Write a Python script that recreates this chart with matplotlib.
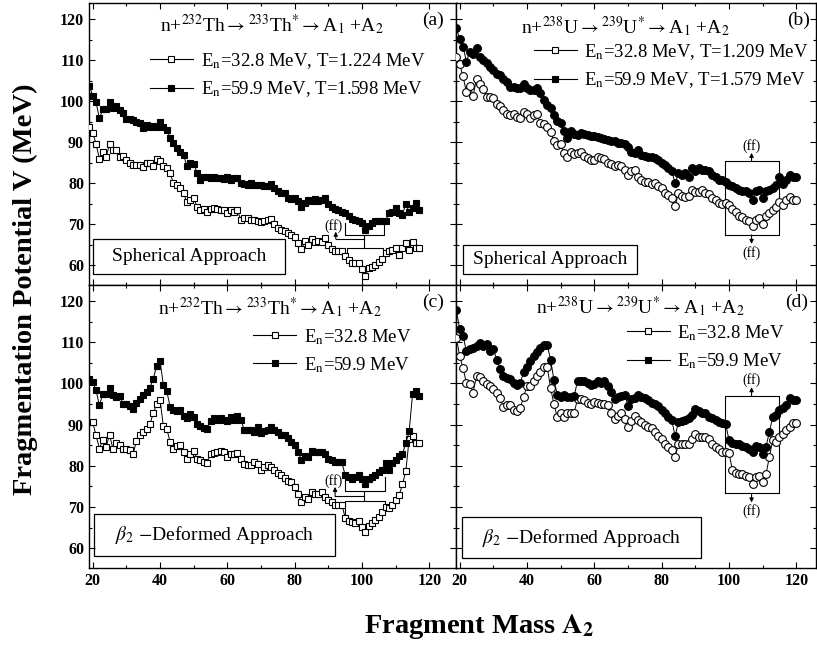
import numpy as np
import matplotlib
matplotlib.use('Agg')
import matplotlib.pyplot as plt
from matplotlib.lines import Line2D
from matplotlib.patches import Rectangle
from matplotlib.ticker import MultipleLocator

plt.rcParams['font.family'] = 'Liberation Serif'
plt.rcParams['mathtext.fontset'] = 'stix'

# Fragment masses A2
mass_th = np.arange(19, 118)     # 19..117 (Th panels)
mass_th_c_open = np.arange(20, 118)
mass_u = np.arange(19, 121)      # 19..120 (U panels)

# (a) n+232Th, spherical approach
th_sph_328 = [93.8, 92.3, 89.6, 85.9, 87.5, 86.3, 89.6, 88.1, 88.1, 86.3,
              86.7, 85.7, 84.9, 84.5, 84.5, 84.5, 83.9, 85.0, 84.9, 84.2,
              85.9, 85.3, 84.2, 83.7, 82.4, 80.0, 79.6, 78.8, 77.6, 75.3,
              76.0, 76.4, 74.3, 73.4, 73.7, 73.1, 73.7, 73.9, 73.7, 73.5,
              73.4, 72.7, 73.5, 73.1, 73.4, 71.1, 71.5, 71.5, 71.1, 71.1,
              70.7, 70.5, 70.9, 71.1, 71.3, 70.1, 69.1, 68.7, 68.3, 67.9,
              67.4, 67.0, 65.4, 64.0, 65.8, 65.0, 66.4, 65.6, 65.8, 65.6,
              66.6, 65.0, 64.0, 63.4, 63.4, 63.6, 62.2, 61.4, 60.6, 60.6,
              60.6, 59.1, 57.5, 59.3, 59.7, 60.1, 60.7, 61.5, 63.0, 63.4,
              63.8, 64.2, 62.6, 64.2, 65.4, 63.8, 65.6, 64.2, 64.2]
th_sph_599 = [103.8, 101.3, 99.7, 95.8, 98.0, 98.0, 99.9, 98.3, 98.7, 97.9,
              97.0, 95.7, 95.6, 95.4, 95.0, 94.6, 93.4, 94.2, 93.8, 94.0,
              93.8, 94.8, 93.8, 93.0, 91.0, 89.8, 88.5, 87.7, 86.9, 84.1,
              84.9, 84.7, 82.6, 80.8, 81.5, 81.6, 81.2, 81.5, 81.2, 81.2,
              81.0, 81.5, 80.8, 81.2, 81.2, 80.0, 79.9, 79.6, 80.0, 79.6,
              79.6, 79.6, 79.4, 79.2, 79.9, 78.8, 78.2, 77.7, 77.6, 76.4,
              76.1, 76.4, 75.6, 74.3, 75.2, 76.0, 75.6, 76.1, 75.6, 76.0,
              76.4, 75.0, 74.2, 73.7, 73.5, 73.1, 72.7, 71.9, 71.3, 71.1,
              70.9, 70.3, 68.7, 69.6, 70.3, 70.7, 70.7, 70.7, 70.7, 72.7,
              72.9, 73.9, 72.7, 72.3, 75.0, 72.9, 74.0, 75.2, 73.5]

# (b) n+238U, spherical approach
u_sph_328 = [110.8, 109.0, 106.0, 102.2, 103.8, 101.3, 105.4, 104.1, 103.0, 101.1,
             100.9, 100.7, 99.2, 98.7, 97.9, 96.8, 96.6, 96.8, 96.2, 96.0,
             97.4, 96.8, 96.0, 96.5, 96.8, 94.6, 94.4, 93.8, 92.4, 90.3,
             89.3, 89.5, 87.3, 86.5, 87.7, 87.1, 87.3,
             87.5, 86.7, 86.1, 85.7, 85.7, 86.5, 86.1, 85.9, 85.0, 84.7,
             84.1, 84.5, 84.1, 83.3, 82.0, 82.9, 83.1, 81.5, 80.8, 80.2,
             80.4, 79.9, 80.0, 79.2, 78.8, 77.6, 77.2, 76.4, 74.5,
             77.6, 76.8, 76.6, 76.8, 78.4, 77.8, 77.8, 78.4, 77.6, 77.4,
             76.4, 75.8, 75.2, 75.0, 75.2, 74.8, 73.6, 72.9, 71.9, 71.8,
             71.1, 70.7, 69.5, 71.0, 71.5, 70.1, 71.9, 72.7, 73.5, 74.1,
             75.5, 74.7, 75.9, 76.7, 76.0, 75.9]
u_sph_599 = [117.7, 115.1, 113.3, 109.6, 112.0, 111.4, 112.9, 110.8, 110.0, 109.2,
             108.4, 107.6, 106.5, 106.4, 105.4, 104.7, 103.5, 103.5, 103.1, 103.3,
             104.1, 103.1, 102.7, 102.7, 103.1, 101.9, 100.3, 99.1, 98.3, 96.6,
             95.2, 94.6, 92.6, 91.0, 92.6, 91.9, 91.8, 92.2, 92.0, 91.8,
             91.5, 91.4, 91.2, 91.0, 90.7, 90.6, 90.4, 90.2, 89.9, 89.7,
             89.6, 88.9, 87.5, 87.3, 88.1, 86.9, 86.7, 86.5, 86.3, 86.1,
             85.7, 85.0, 84.5, 83.7, 82.9, 80.0, 82.4, 82.0, 82.4, 81.6,
             83.7, 82.9, 83.7, 83.3, 83.3, 82.9, 82.0, 81.6, 80.8, 80.7,
             80.4, 79.6, 79.2, 78.8, 78.4, 78.0, 78.0, 77.6, 76.0, 78.0,
             78.4, 76.4, 78.0, 78.4, 78.8, 79.6, 81.6, 79.9, 80.8, 82.0,
             81.6, 81.6]

# (c) n+232Th, beta2-deformed approach
th_def_328 = [90.6, 87.4, 84.2, 86.2, 84.6, 87.6, 84.2, 85.5, 85.0, 84.2,
              84.2, 83.9, 82.9, 86.0, 87.6, 88.2, 89.0, 90.1, 92.8, 94.9,
              96.1, 89.6, 89.0, 85.8, 84.2, 84.7, 85.0, 83.3, 81.7, 82.9,
              83.7, 81.7, 81.5, 80.9, 80.7, 82.8, 83.1, 83.3, 83.6, 83.3,
              82.1, 82.9, 82.9, 83.1, 81.7, 80.5, 80.3, 80.1, 80.9, 80.5,
              78.9, 79.7, 80.1, 79.7, 78.9, 78.2, 77.7, 77.1, 76.4, 76.0,
              74.8, 73.2, 71.2, 72.4, 72.0, 73.6, 73.2, 73.2, 73.6, 72.4,
              71.6, 71.2, 70.6, 70.6, 70.6, 67.4, 66.7, 66.3, 66.1, 66.6,
              65.1, 63.9, 65.5, 66.1, 66.9, 67.7, 68.7, 70.1, 69.8, 70.6,
              71.6, 72.8, 75.5, 78.7, 86.6, 87.2, 85.5, 85.5]
th_def_599 = [101.0, 100.4, 98.3, 94.7, 97.4, 97.4, 98.8, 97.1, 96.7, 96.9,
              95.1, 94.9, 94.5, 93.9, 95.3, 96.3, 97.1, 97.9, 98.9, 101.2,
              104.2, 105.5, 99.6, 98.2, 94.3, 93.6, 93.3, 93.6, 92.0, 91.5,
              92.7, 91.9, 90.1, 89.6, 89.3, 89.0, 90.9, 91.5, 91.2, 91.5,
              91.1, 90.9, 91.9, 91.2, 92.0, 91.2, 88.8, 88.6, 88.8, 88.2,
              89.4, 88.0, 88.5, 88.8, 89.4, 88.8, 88.2, 87.6, 87.4, 86.8,
              85.8, 85.0, 83.3, 81.5, 82.5, 82.1, 83.6, 83.3, 83.3, 83.3,
              82.8, 81.7, 81.3, 80.9, 80.9, 80.9, 77.7, 77.3, 76.9, 77.4,
              77.7, 76.9, 75.5, 76.9, 77.3, 77.7, 78.5, 78.9, 80.7, 78.9,
              80.7, 81.3, 82.5, 82.9, 85.5, 88.4, 97.4, 98.2, 97.0]

# (d) n+238U, beta2-deformed approach
u_def_328 = [111.1, 106.7, 103.7, 100.1, 99.9, 97.8, 101.9, 101.5, 100.5, 99.9,
             99.4, 98.6, 97.6, 96.4, 94.4, 94.8, 94.8, 93.6, 93.2, 94.0,
             96.8, 99.4, 99.4, 100.5, 101.9, 102.9, 104.0, 104.0, 98.9, 95.0,
             91.8, 92.8, 91.8, 92.9, 92.8, 92.9, 96.2, 96.2, 95.9, 95.2,
             95.0, 95.4, 95.2, 95.0, 95.0, 94.8, 92.9, 91.3, 92.0, 92.8,
             91.3, 89.5, 91.0, 92.1, 91.1, 90.7, 89.9, 89.5, 89.1, 88.3,
             87.2, 86.4, 85.4, 84.6, 83.8, 82.2,
             85.3, 85.3, 85.3, 85.4, 86.4, 87.7, 86.9, 87.1, 87.1, 86.4,
             85.4, 84.6, 84.0, 83.4, 83.4, 83.0, 79.1, 78.3, 78.1, 78.0,
             77.5, 77.2, 75.5, 77.3, 77.5, 76.1, 78.0, 82.2, 86.3, 85.9,
             87.1, 87.7, 88.7, 89.5, 90.3, 90.3]
u_def_599 = [117.8, 113.3, 111.6, 107.8, 108.4, 108.6, 109.2, 109.8, 109.2, 109.7,
             108.0, 108.4, 105.8, 103.5, 101.7, 101.3, 101.1, 100.2, 99.7, 100.2,
             102.7, 104.0, 105.4, 106.6, 107.6, 108.6, 109.4, 109.4, 105.8, 100.9,
             97.2, 96.7, 97.2, 96.8, 96.8, 97.0, 100.5,
             100.7, 100.7, 100.2, 99.7, 99.9, 100.5, 100.1, 100.5, 99.3, 98.0,
             96.2, 96.7, 97.0, 97.2, 94.6, 96.2, 96.4, 97.2, 96.8, 96.4,
             95.9, 95.2, 95.0, 94.6, 93.6, 92.9, 91.8, 91.1, 87.2,
             90.7, 91.0, 91.1, 91.5, 92.4, 93.7, 93.2, 92.9, 92.8, 91.8,
             91.5, 91.1, 90.7, 90.5, 90.2,
             86.3, 85.6, 85.3, 85.3, 84.8, 84.6, 84.2, 83.4, 84.8, 84.6,
             82.8, 84.6, 88.3, 91.8, 92.4, 93.6, 94.0, 94.8, 96.4, 96.1, 96.0]

title_th = r"n+$^{232}$Th$\rightarrow$$^{233}$Th$^{*}$$\rightarrow$A$_{1}$ +A$_{2}$"
title_u = r"n+$^{238}$U$\rightarrow$$^{239}$U$^{*}$$\rightarrow$A$_{1}$ +A$_{2}$"
leg_th_sph = [r"E$_{\rm n}$=32.8 MeV, T=1.224 MeV", r"E$_{\rm n}$=59.9 MeV, T=1.598 MeV"]
leg_u_sph = [r"E$_{\rm n}$=32.8 MeV, T=1.209 MeV", r"E$_{\rm n}$=59.9 MeV, T=1.579 MeV"]
leg_def = [r"E$_{\rm n}$=32.8 MeV", r"E$_{\rm n}$=59.9 MeV"]

YLIM = (55.2, 123.9)
LW = 0.7
MS = 5


def setup(ax, xlim, labelx, labely):
    ax.set_xlim(*xlim)
    ax.set_ylim(*YLIM)
    ax.xaxis.set_major_locator(MultipleLocator(20))
    ax.xaxis.set_minor_locator(MultipleLocator(10))
    ax.yaxis.set_major_locator(MultipleLocator(10))
    ax.yaxis.set_minor_locator(MultipleLocator(5))
    ax.tick_params(which='both', direction='in', top=True, right=True, width=0.8)
    ax.tick_params(which='major', length=4)
    ax.tick_params(which='minor', length=2.5)
    ax.tick_params(labelbottom=labelx, labelleft=labely, labelsize=11.5)
    for lab in ax.get_xticklabels() + ax.get_yticklabels():
        lab.set_fontweight('bold')
    for sp in ax.spines.values():
        sp.set_linewidth(1.0)


def draw(ax, x_open, y_open, x_fill, y_fill, marker, ms):
    ax.plot(x_open, y_open, '-', color='k', lw=LW, marker=marker, ms=ms,
            mfc='white', mec='k', mew=0.8, zorder=3)
    ax.plot(x_fill, y_fill, '-', color='k', lw=LW, marker=marker, ms=ms,
            mfc='k', mec='k', mew=0.8, zorder=3)


def legend(ax, labels, x, y):
    h = [Line2D([], [], color='k', lw=0.8, marker='s', ms=MS, mfc='white', mec='k', mew=0.8),
         Line2D([], [], color='k', lw=0.8, marker='s', ms=MS, mfc='k', mec='k', mew=0.8)]
    ax.legend(h, labels, loc='upper left', bbox_to_anchor=(x, y), frameon=False,
              fontsize=13.5, handlelength=2.3, handletextpad=0.4, labelspacing=0.45,
              borderpad=0, borderaxespad=0, numpoints=1)


def boxed(ax, text, x0, x1, y0, y1):
    ax.add_patch(Rectangle((x0, y0), x1 - x0, y1 - y0, transform=ax.transAxes,
                           fill=False, ec='k', lw=0.9, zorder=4))
    ax.text((x0 + x1) / 2, (y0 + y1) / 2, text, transform=ax.transAxes,
            ha='center', va='center', fontsize=14)


def arrow(ax, x, y0, y1):
    ax.annotate('', xy=(x, y1), xytext=(x, y0),
                arrowprops=dict(arrowstyle='-|>', lw=0.8, color='k', mutation_scale=6,
                                shrinkA=0, shrinkB=0))


fig = plt.figure(figsize=(8.17, 6.51), dpi=100)
ax_a = fig.add_axes([0.1089, 0.5622, 0.4492, 0.4332])
ax_b = fig.add_axes([0.5581, 0.5622, 0.4405, 0.4332])
ax_c = fig.add_axes([0.1089, 0.1275, 0.4492, 0.4347])
ax_d = fig.add_axes([0.5581, 0.1275, 0.4405, 0.4347])

setup(ax_a, (18.9, 127.9), False, True)
setup(ax_b, (18.9, 125.8), False, False)
setup(ax_c, (18.9, 127.9), True, True)
setup(ax_d, (18.9, 125.8), True, False)

draw(ax_a, mass_th, th_sph_328, mass_th, th_sph_599, 's', 5)
draw(ax_b, mass_u, u_sph_328, mass_u, u_sph_599, 'o', 5.6)
draw(ax_c, mass_th_c_open, th_def_328, mass_th, th_def_599, 's', 5)
draw(ax_d, mass_u, u_def_328, mass_u, u_def_599, 'o', 5.6)

# titles and panel letters
for ax, title, tx, ty, letter, lx in [(ax_a, title_th, 0.499, 0.922, '(a)', 0.937),
                                      (ax_b, title_u, 0.471, 0.915, '(b)', 0.953),
                                      (ax_c, title_th, 0.493, 0.919, '(c)', 0.937),
                                      (ax_d, title_u, 0.512, 0.922, '(d)', 0.947)]:
    ax.text(tx, ty, title, transform=ax.transAxes, ha='center', va='center', fontsize=14)
    ax.text(lx, 0.94, letter, transform=ax.transAxes, ha='center', va='center', fontsize=14)

legend(ax_a, leg_th_sph, 0.166, 0.83)
legend(ax_b, leg_u_sph, 0.216, 0.862)
legend(ax_c, leg_def, 0.447, 0.852)
legend(ax_d, leg_def, 0.474, 0.866)

boxed(ax_a, "Spherical Approach", 0.011, 0.534, 0.039, 0.163)
boxed(ax_b, "Spherical Approach", 0.019, 0.504, 0.039, 0.142)
boxed(ax_c, r"$\beta_2$ $-$Deformed Approach", 0.014, 0.670, 0.042, 0.191)
boxed(ax_d, r"$\beta_2$ $-$Deformed Approach", 0.017, 0.681, 0.035, 0.180)

# (ff) markers, panel (a)
kw = dict(color='k', lw=0.8, zorder=2)
ax_a.plot([94.9, 94.9, 106.4, 106.4], [70.3, 67.4, 67.4, 70.3], **kw)
ax_a.plot([100.7, 100.7], [67.4, 64.2], **kw)
ax_a.plot([95.4, 95.4, 106.3, 106.3], [61.8, 64.2, 64.2, 62.4], **kw)
ax_a.plot([100.7, 92.2], [66.4, 66.4], **kw)
arrow(ax_a, 92.2, 66.4, 68.2)
ax_a.text(91.6, 69.6, '(ff)', ha='center', va='center', fontsize=10)

# panel (c)
ax_c.plot([95.0, 95.0, 106.7, 106.7], [77.3, 74.0, 74.0, 77.3], **kw)
ax_c.plot([100.5, 100.5], [74.0, 71.4], **kw)
ax_c.plot([95.0, 95.0, 106.7, 106.7], [67.8, 71.4, 71.4, 69.5], **kw)
ax_c.plot([100.5, 92.0], [72.6, 72.6], **kw)
arrow(ax_c, 92.0, 72.6, 74.9)
ax_c.text(91.4, 76.2, '(ff)', ha='center', va='center', fontsize=10)

# panels (b) and (d)
for ax, y0, y1 in [(ax_b, 67.4, 85.3), (ax_d, 73.3, 97.0)]:
    ax.plot([98.8, 114.8, 114.8, 98.8, 98.8], [y0, y0, y1, y1, y0], **kw)
    arrow(ax, 106.7, y1, y1 + 2.1)
    arrow(ax, 106.7, y0, y0 - 2.2)
    ax.text(106.7, y1 + 3.8, '(ff)', ha='center', va='center', fontsize=10)
    ax.text(106.7, y0 - 4.3, '(ff)', ha='center', va='center', fontsize=10)

fig.text(0.031, 0.556, "Fragmentation Potential V (MeV)", rotation=90,
         ha='center', va='center', fontsize=20.5, fontweight='bold')
fig.text(0.586, 0.038, r"Fragment Mass $\mathbf{A_2}$",
         ha='center', va='center', fontsize=20.5, fontweight='bold')

fig.savefig('out.png', dpi=100)
